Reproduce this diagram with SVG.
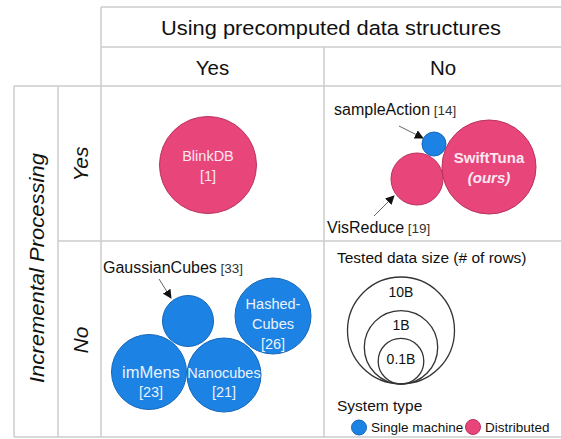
<svg xmlns="http://www.w3.org/2000/svg" width="561" height="439" viewBox="0 0 561 439">
<style>
text{font-family:"Liberation Sans",Arial,sans-serif;}
.grid{stroke:#cccccc;stroke-width:1.5;fill:none}
.hdr{font-size:20.5px;fill:#111;text-anchor:middle}
.side{font-size:21px;fill:#111;font-style:italic;text-anchor:middle}
.pink{fill:#e8457b;stroke:#b8335f;stroke-width:1}
.blue{fill:#1c82e3;stroke:#1767b8;stroke-width:1}
.in{fill:#fbe8f0;text-anchor:middle}
.inb{fill:#eaf3fd;text-anchor:middle}
.lbl{font-size:16px;fill:#111}
.ref{font-size:13.5px;fill:#333}
.ring{fill:none;stroke:#333;stroke-width:1.3}
.arr{stroke:#666;stroke-width:1;fill:none;marker-end:url(#ah)}
</style>
<defs>
<marker id="ah" viewBox="0 0 10 10" refX="9" refY="5" markerWidth="9" markerHeight="9" markerUnits="userSpaceOnUse" orient="auto">
<path d="M0,0 L10,5 L0,10 z" fill="#111"/>
</marker>
</defs>
<rect width="561" height="439" fill="#fff"/>
<g id="grid">
<line class="grid" x1="101" y1="7" x2="561" y2="7"/>
<line class="grid" x1="101" y1="47" x2="561" y2="47"/>
<line class="grid" x1="14" y1="86" x2="561" y2="86"/>
<line class="grid" x1="58" y1="241" x2="561" y2="241"/>
<line class="grid" x1="14" y1="437" x2="561" y2="437"/>
<line class="grid" x1="14" y1="86" x2="14" y2="437"/>
<line class="grid" x1="58" y1="86" x2="58" y2="437"/>
<line class="grid" x1="101" y1="7" x2="101" y2="437"/>
<line class="grid" x1="324" y1="47" x2="324" y2="437"/>
</g>
<g id="headers">
<text class="hdr" x="331" y="35" textLength="340" lengthAdjust="spacingAndGlyphs">Using precomputed data structures</text>
<text class="hdr" x="212.5" y="75">Yes</text>
<text class="hdr" x="443" y="75">No</text>
<text class="side" transform="translate(44,268) rotate(-90)" textLength="230" lengthAdjust="spacingAndGlyphs">Incremental Processing</text>
<text class="side" transform="translate(88,164) rotate(-90)">Yes</text>
<text class="side" transform="translate(88,340) rotate(-90)">No</text>
</g>
<g id="connectors">
<line class="arr" x1="399" y1="126" x2="423" y2="138"/>
<line class="arr" x1="374" y1="216" x2="394" y2="196"/>
<line class="arr" x1="159" y1="279" x2="171" y2="298"/>
</g>
<g id="blinkdb">
<circle class="pink" cx="208" cy="165" r="48.5"/>
<text class="in" x="208" y="161" font-size="14.5">BlinkDB</text>
<text class="in" x="208" y="181" font-size="14.5">[1]</text>
</g>
<g id="sampleaction">
<circle class="blue" cx="434" cy="144" r="12"/>
<text x="334" y="115"><tspan class="lbl">sampleAction</tspan><tspan class="ref"> [14]</tspan></text>
</g>
<g id="visreduce">
<circle class="pink" cx="417" cy="179" r="26"/>
<text x="327" y="233"><tspan class="lbl">VisReduce</tspan><tspan class="ref"> [19]</tspan></text>
</g>
<g id="swifttuna">
<circle class="pink" cx="489" cy="167" r="47"/>
<text x="489" y="163" font-size="15" font-weight="bold" fill="#fbe8f0" text-anchor="middle">SwiftTuna</text>
<text x="489" y="183" font-size="15" font-weight="bold" font-style="italic" fill="#fbe8f0" text-anchor="middle">(ours)</text>
</g>
<g id="gaussiancubes">
<circle class="blue" cx="188" cy="321" r="25.5"/>
<text x="103" y="273"><tspan class="lbl">GaussianCubes</tspan><tspan class="ref"> [33]</tspan></text>
</g>
<g id="hashedcubes">
<circle class="blue" cx="273" cy="316" r="38"/>
<text class="inb" x="273" y="309" font-size="14.5">Hashed-</text>
<text class="inb" x="273" y="329" font-size="14.5">Cubes</text>
<text class="inb" x="273" y="349" font-size="14.5">[26]</text>
</g>
<g id="immens">
<circle class="blue" cx="149" cy="372" r="37.5"/>
<text class="inb" x="151" y="378" font-size="16.5">imMens</text>
<text class="inb" x="151" y="397" font-size="14.5">[23]</text>
</g>
<g id="nanocubes">
<circle class="blue" cx="224" cy="375" r="37"/>
<text class="inb" x="224" y="378" font-size="14.5">Nanocubes</text>
<text class="inb" x="224" y="397" font-size="14.5">[21]</text>
</g>
<g id="legend-size">
<text x="337" y="263" font-size="15.5" fill="#111">Tested data size (# of rows)</text>
<circle class="ring" cx="401" cy="330.5" r="53.5"/>
<circle class="ring" cx="401" cy="347.3" r="36.7"/>
<circle class="ring" cx="401" cy="361.2" r="22.8"/>
<text x="401" y="297" font-size="14" fill="#111" text-anchor="middle">10B</text>
<text x="401" y="330" font-size="14" fill="#111" text-anchor="middle">1B</text>
<text x="401" y="364" font-size="14" fill="#111" text-anchor="middle">0.1B</text>
</g>
<g id="legend-type">
<text x="337" y="411" font-size="15.5" fill="#111">System type</text>
<circle class="blue" cx="359" cy="427.5" r="7.5"/>
<text x="371" y="432" font-size="13.5" fill="#111">Single machine</text>
<circle class="pink" cx="473" cy="427" r="7.5"/>
<text x="485" y="432" font-size="13.5" fill="#111">Distributed</text>
</g>
</svg>
